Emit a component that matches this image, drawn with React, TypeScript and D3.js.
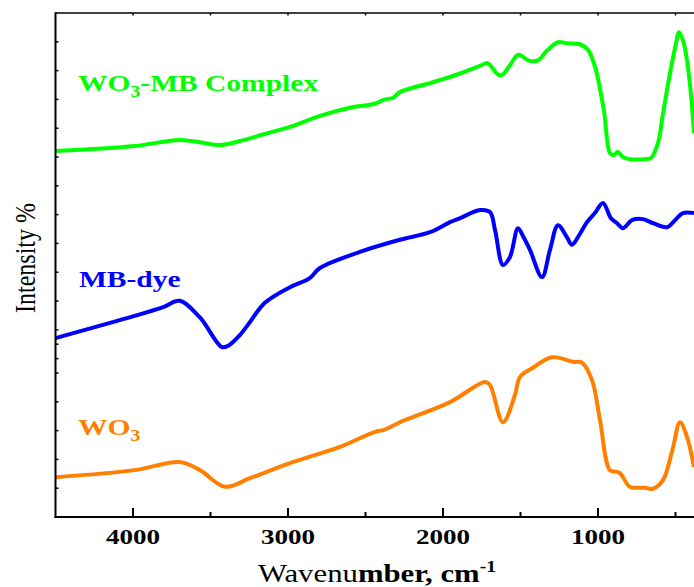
import React from 'react';
import * as d3 from 'd3';

// FTIR spectra: wavenumber (cm-1) vs intensity (arbitrary, 0-100 axis)
const complexWn = [4500, 3990, 3700, 3560, 3440, 3310, 3150, 2987, 2794, 2600, 2440, 2380, 2320, 2278, 2084, 1955, 1761, 1716, 1697, 1650, 1619, 1560, 1516, 1440, 1387, 1330, 1258, 1200, 1116, 1065, 1019, 962, 923, 900, 871, 840, 794, 700, 660, 613, 581, 535, 500, 477, 452, 426, 400, 381];
const complexVal = [72.6, 73.6, 74.8, 74.3, 73.8, 74.6, 76.0, 77.4, 79.6, 81.2, 82.0, 82.8, 83.2, 84.3, 86.1, 87.3, 89.5, 90.1, 89.7, 87.9, 87.7, 90.0, 91.7, 90.5, 90.6, 92.5, 94.2, 94.0, 93.8, 92.7, 89.3, 80.7, 72.2, 71.8, 72.4, 71.4, 71.0, 71.0, 71.2, 74.2, 80.0, 88.1, 93.5, 96.2, 94.6, 90.7, 83.7, 76.2];

const dyeWn = [4500, 3990, 3800, 3700, 3568, 3426, 3380, 3310, 3245, 3149, 2987, 2860, 2794, 2536, 2278, 2084, 1955, 1890, 1761, 1697, 1664, 1613, 1568, 1516, 1480, 1439, 1361, 1310, 1258, 1200, 1168, 1120, 1071, 1020, 968, 917, 877, 839, 781, 710, 645, 555, 500, 452, 381];
const dyeVal = [35.5, 39.9, 41.7, 42.9, 39.6, 33.7, 34.1, 36.1, 38.7, 42.5, 45.6, 47.4, 49.4, 52.6, 55.0, 56.5, 58.5, 59.3, 60.9, 60.5, 56.9, 50.0, 51.6, 57.3, 55.5, 53.0, 47.6, 53.0, 57.9, 55.5, 54.0, 56.0, 58.5, 60.3, 62.3, 59.3, 58.3, 57.3, 58.9, 59.1, 58.3, 57.5, 59.0, 60.3, 60.3];

const wo3Wn = [4500, 3990, 3700, 3568, 3407, 3245, 2987, 2665, 2439, 2380, 2278, 1955, 1729, 1697, 1613, 1536, 1503, 1420, 1297, 1161, 1103, 1039, 987, 923, 880, 858, 839, 794, 700, 645, 581, 520, 471, 426, 381];
const wo3Val = [7.9, 9.3, 10.9, 9.3, 6.0, 7.7, 10.7, 13.9, 16.9, 17.3, 18.8, 22.8, 26.8, 26.2, 18.8, 24.2, 27.8, 29.6, 31.7, 30.8, 30.6, 27.2, 19.2, 9.3, 9.0, 8.7, 7.9, 6.0, 5.8, 5.6, 7.3, 13.3, 18.8, 15.9, 9.9];

const xTickLabels = [4000, 3000, 2000, 1000];
const xMinorTicks = [3500, 2500, 1500, 500];

const W = 694;
const H = 587;
const left = 55.5;
const top = 13;
const bottom = 517;
const sx = 1.23; // the original figure is stretched horizontally

const x = d3.scaleLinear().domain([4500, 380]).range([left, left + 4120 * 0.155]);
const y = d3.scaleLinear().domain([0, 100]).range([bottom, top]);

const step = 100 / 17.5;
const yTicks = [
  ...d3.range(1, 7).map((i) => i * step),
  ...d3.range(1, 13).map((i) => 100 - i * step),
];

const line = d3
  .line<[number, number]>()
  .x((d) => x(d[0]))
  .y((d) => y(d[1]))
  .curve(d3.curveCatmullRom.alpha(0.5));

const zip = (a: number[], b: number[]) => a.map((v, i) => [v, b[i]] as [number, number]);

const series = [
  { name: 'complex', color: '#00ff00', data: zip(complexWn, complexVal) },
  { name: 'dye', color: '#0000ff', data: zip(dyeWn, dyeVal) },
  { name: 'wo3', color: '#ff8000', data: zip(wo3Wn, wo3Val) },
];

const font = "'Liberation Serif', 'Times New Roman', serif";

const at = (tx: number, ty: number) => `translate(${tx},${ty}) scale(${sx},1)`;

export default function App() {
  return (
    <svg
      width={W}
      height={H}
      style={{ position: 'fixed', left: 0, top: 0, background: '#fff' }}
      fontFamily={font}
    >
      <defs>
        <clipPath id="plot">
          <rect x={left} y={0} width={W - left} height={bottom} />
        </clipPath>
      </defs>

      {series.map((s) => (
        <path
          key={s.name}
          d={line(s.data) || ''}
          fill="none"
          stroke={s.color}
          strokeWidth={4}
          strokeLinejoin="round"
          clipPath="url(#plot)"
        />
      ))}

      {/* frame */}
      <line x1={left} x2={W} y1={top} y2={top} stroke="#000" strokeWidth={1.5} />
      <line x1={left} x2={left} y1={top - 0.75} y2={bottom + 1} stroke="#000" strokeWidth={2} />
      <line x1={left - 1} x2={W} y1={bottom} y2={bottom} stroke="#000" strokeWidth={2} />

      {/* left ticks */}
      {yTicks.map((t, i) => (
        <line key={'yt' + i} x1={left} x2={left + 3} y1={y(t)} y2={y(t)} stroke="#000" strokeWidth={1.5} />
      ))}

      {/* top ticks */}
      {[...xTickLabels, ...xMinorTicks].map((t) => (
        <line key={'tt' + t} x1={x(t)} x2={x(t)} y1={top} y2={top + 2.5} stroke="#000" strokeWidth={1.5} />
      ))}

      {/* bottom ticks */}
      {xTickLabels.map((t) => (
        <g key={'bt' + t}>
          <line x1={x(t)} x2={x(t)} y1={bottom} y2={bottom - 9} stroke="#000" strokeWidth={2} />
          <text transform={at(x(t), 544)} textAnchor="middle" fontSize={22} fontWeight="bold">
            {t}
          </text>
        </g>
      ))}
      {xMinorTicks.map((t) => (
        <line key={'bm' + t} x1={x(t)} x2={x(t)} y1={bottom} y2={bottom - 5} stroke="#000" strokeWidth={2} />
      ))}

      {/* axis titles */}
      <text transform={at(377, 582)} textAnchor="middle" fontSize={25}>
        <tspan>Wavenu</tspan>
        <tspan fontWeight="bold">mber, cm</tspan>
        <tspan fontWeight="bold" fontSize={16} dy={-10}>-1</tspan>
      </text>
      <text transform={`translate(35,258) scale(${sx},1) rotate(-90)`} textAnchor="middle" fontSize={24}>
        Intensity %
      </text>

      {/* series labels */}
      <text transform={at(78, 91)} fontSize={24} fontWeight="bold" fill="#00ff00">
        WO<tspan fontSize={16} dy={6}>3</tspan>
        <tspan dy={-6}>-MB Complex</tspan>
      </text>
      <text transform={at(79, 287)} fontSize={24} fontWeight="bold" fill="#0000ff">
        MB-dye
      </text>
      <text transform={at(78, 435)} fontSize={24} fontWeight="bold" fill="#ff8000">
        WO<tspan fontSize={16} dy={6}>3</tspan>
      </text>
    </svg>
  );
}
